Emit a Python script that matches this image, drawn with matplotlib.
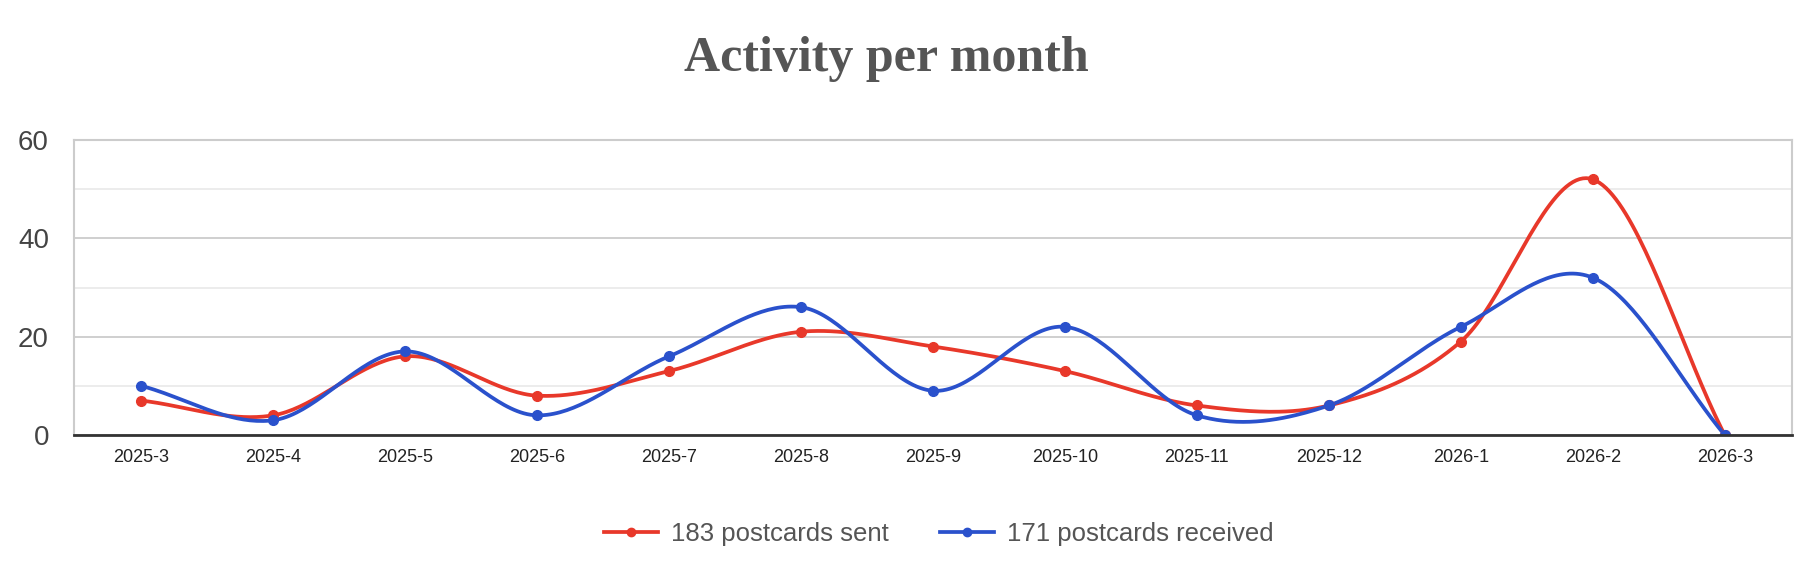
import numpy as np
import matplotlib
matplotlib.use("Agg")
import matplotlib.pyplot as plt

plt.rcParams['font.family'] = ['Liberation Sans', 'DejaVu Sans']

# data
months = ["2025-3", "2025-4", "2025-5", "2025-6", "2025-7", "2025-8", "2025-9",
          "2025-10", "2025-11", "2025-12", "2026-1", "2026-2", "2026-3"]
sent = [7, 4, 16, 8, 13, 21, 18, 13, 6, 6, 19, 52, 0]
received = [10, 3, 17, 4, 16, 26, 9, 22, 4, 6, 22, 32, 0]

red = "#e8382a"
blue = "#2a51cc"


# smooth curve like the "function" curve type (catmull-rom)
def smooth(y, steps=40):
    y = np.asarray(y, dtype=float)
    n = len(y)
    m = np.zeros(n)
    m[1:-1] = (y[2:] - y[:-2]) / 2
    m[0] = y[1] - y[0]
    m[-1] = y[-1] - y[-2]
    xs, ys = [], []
    for i in range(n - 1):
        t = np.linspace(0, 1, steps, endpoint=False)
        h00 = 2 * t**3 - 3 * t**2 + 1
        h10 = t**3 - 2 * t**2 + t
        h01 = -2 * t**3 + 3 * t**2
        h11 = t**3 - t**2
        xs.append(i + t)
        ys.append(h00 * y[i] + h10 * m[i] + h01 * y[i + 1] + h11 * m[i + 1])
    xs.append([n - 1])
    ys.append([y[-1]])
    return np.concatenate(xs), np.concatenate(ys)


fig = plt.figure(figsize=(18.16, 5.76), dpi=100)
ax = fig.add_axes([0.0407, 0.2448, 0.9461, 0.5121])

x = np.arange(len(months))
for vals, col, lab in [(sent, red, "183 postcards sent"), (received, blue, "171 postcards received")]:
    sx, sy = smooth(vals)
    ax.plot(sx, sy, color=col, lw=2.7, solid_capstyle="round", zorder=3)
    ax.plot(x, vals, "o", color=col, ms=7, zorder=4)
    ax.plot([], [], color=col, lw=2.7, marker="o", ms=6, label=lab)

ax.set_xlim(-0.51, 12.51)
ax.set_ylim(0, 60)
ax.set_yticks([0, 20, 40, 60])
ax.set_yticks([10, 30, 50], minor=True)
ax.set_xticks(x)
ax.set_xticklabels(months)
ax.grid(axis="y", which="major", color="#cccccc", lw=1.3, zorder=0)
ax.grid(axis="y", which="minor", color="#ebebeb", lw=1.3, zorder=0)
ax.tick_params(axis="both", which="both", length=0)
ax.tick_params(axis="y", labelsize=20, labelcolor="#444444", pad=18)
ax.tick_params(axis="x", labelsize=13, labelcolor="#222222", pad=10)
for s in ["left", "top", "right"]:
    ax.spines[s].set_color("#cccccc")
    ax.spines[s].set_linewidth(1.5)
ax.spines["bottom"].set_color("#333333")
ax.spines["bottom"].set_linewidth(2)
ax.spines["bottom"].set_zorder(5)

fig.text(0.488, 0.897, "Activity per month", ha="center", va="center",
         fontsize=36, fontweight="bold", family="Liberation Serif", color="#555555")

fig.legend(loc="center", bbox_to_anchor=(0.517, 0.073), ncol=2, frameon=False,
           fontsize=18.5, labelcolor="#555555", handlelength=2.1, columnspacing=2.0,
           handletextpad=0.5)

fig.savefig("out.png", dpi=100)
